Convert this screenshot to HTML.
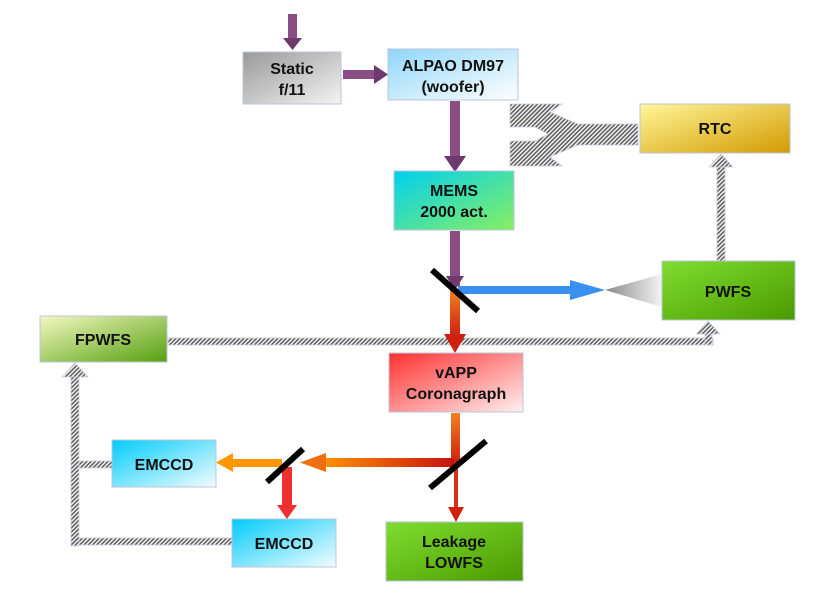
<!DOCTYPE html>
<html><head><style>body{margin:0;background:#fff}svg{display:block}text{font-family:"Liberation Sans",sans-serif;font-weight:bold;font-size:16px;text-anchor:middle;fill:#111}</style></head><body>
<svg width="826" height="596" viewBox="0 0 826 596" xmlns="http://www.w3.org/2000/svg">
<defs>
<pattern id="h" width="3" height="3" patternUnits="userSpaceOnUse" patternTransform="rotate(45)"><rect width="3" height="3" fill="#f0f0f0"/><rect width="1.4" height="3" fill="#555"/></pattern>
<linearGradient id="gs" x1="0" y1="0" x2="1" y2="1"><stop offset="0" stop-color="#999"/><stop offset="1" stop-color="#f4f4f4"/></linearGradient>
<linearGradient id="gb" x1="0" y1="0" x2="1" y2="1"><stop offset="0" stop-color="#8fd6f8"/><stop offset="1" stop-color="#fff"/></linearGradient>
<linearGradient id="gc" x1="0" y1="0" x2="1" y2="1"><stop offset="0" stop-color="#00ccf8"/><stop offset="1" stop-color="#f4fcff"/></linearGradient>
<linearGradient id="gm" x1="0" y1="0" x2="1" y2="1"><stop offset="0" stop-color="#00d0f0"/><stop offset="1" stop-color="#88f060"/></linearGradient>
<linearGradient id="gy" x1="0" y1="0" x2="1" y2="1"><stop offset="0" stop-color="#fff79a"/><stop offset="1" stop-color="#d39a00"/></linearGradient>
<linearGradient id="gg" x1="0" y1="0" x2="1" y2="1"><stop offset="0" stop-color="#80dd30"/><stop offset="1" stop-color="#4b9a00"/></linearGradient>
<linearGradient id="gf" x1="0" y1="0" x2="1" y2="1"><stop offset="0" stop-color="#f4f8c0"/><stop offset="1" stop-color="#55a010"/></linearGradient>
<linearGradient id="gr" x1="0" y1="0" x2="1" y2="1"><stop offset="0" stop-color="#ff3030"/><stop offset="1" stop-color="#fff0f0"/></linearGradient>
<linearGradient id="gcone" x1="0" y1="0" x2="1" y2="0"><stop offset="0" stop-color="#888"/><stop offset="1" stop-color="#f4f4f4"/></linearGradient>
<linearGradient id="go" x1="0" y1="0" x2="0" y2="1"><stop offset="0" stop-color="#f08020"/><stop offset="1" stop-color="#d02010"/></linearGradient>
<linearGradient id="gh" x1="0" y1="0" x2="1" y2="0"><stop offset="0" stop-color="#ff9800"/><stop offset="1" stop-color="#c81010"/></linearGradient>
</defs>
<g stroke="#c8d0e0" stroke-width="0.8">
<polygon fill="url(#h)" points="510,104 562,104 550,112 578,124 638,124 638,145 578,145 550,157 562,166 510,166 510,141 535,141 548,134 535,127 510,127"/>
<rect x="168" y="338" width="545" height="7" fill="url(#h)"/>
<rect x="705" y="332" width="7" height="13" fill="url(#h)"/>
<polygon fill="url(#h)" points="696,334 708,321 720,334"/>
<rect x="717" y="166" width="8" height="95" fill="url(#h)"/>
<polygon fill="url(#h)" points="709,167 721,154 733,167"/>
<rect x="71" y="376" width="8" height="170" fill="url(#h)"/>
<polygon fill="url(#h)" points="62,377 75,363 88,377"/>
<rect x="79" y="461" width="33" height="7" fill="url(#h)"/>
<rect x="79" y="538" width="153" height="7" fill="url(#h)"/>
</g>
<rect x="288" y="14" width="9" height="26" fill="#8a4e84"/><polygon points="283,38 302,38 292.5,50" fill="#6e3a6e"/>
<rect x="343" y="70" width="32" height="9" fill="#8a4e84"/><polygon points="374,65 374,84 388,74.5" fill="#6e3a6e"/>
<rect x="450" y="101" width="10" height="57" fill="#8a4e84"/><polygon points="444,156 466,156 455,172" fill="#6e3a6e"/>
<rect x="450" y="231" width="10" height="55" fill="#8a4e84"/><polygon points="446,276 464,276 455,290" fill="#6e3a6e"/>
<rect x="450" y="290" width="10" height="46" fill="url(#go)"/><polygon points="444,334 466,334 455,353" fill="#d02010"/>
<rect x="458" y="286" width="115" height="8" fill="#3a90f0"/><polygon points="570,280 570,300 605,290" fill="#3a90f0"/>
<polygon points="605,290 662,274 662,307" fill="url(#gcone)"/>
<line x1="432" y1="270" x2="478" y2="311" stroke="#000" stroke-width="6"/>
<rect x="451" y="413" width="9" height="50" fill="url(#go)"/>
<rect x="454" y="463" width="4" height="46" fill="#d83018"/><polygon points="448,507 464,507 456,522" fill="#d02010"/>
<rect x="318" y="458" width="136" height="9" fill="url(#gh)"/>
<polygon points="326,453 326,472 300,462.5" fill="#f07010"/>
<rect x="232" y="459" width="50" height="8" fill="#ff9800"/><polygon points="233,453 233,472 216,462.5" fill="#ff9800"/>
<rect x="282" y="467" width="10" height="40" fill="#f03030"/><polygon points="277,505 297,505 287,519" fill="#f03030"/>
<line x1="430" y1="488" x2="486" y2="441" stroke="#000" stroke-width="6"/>
<line x1="267" y1="482" x2="303" y2="449" stroke="#000" stroke-width="6"/>
<g stroke="#b8c4dc" stroke-width="1">
<rect x="243" y="52" width="98" height="52" fill="url(#gs)"/>
<rect x="388" y="49" width="130" height="51" fill="url(#gb)"/>
<rect x="394" y="171" width="120" height="59" fill="url(#gm)"/>
<rect x="640" y="104" width="150" height="49" fill="url(#gy)"/>
<rect x="662" y="261" width="133" height="59" fill="url(#gg)"/>
<rect x="40" y="316" width="127" height="46" fill="url(#gf)"/>
<rect x="389" y="353" width="134" height="59" fill="url(#gr)"/>
<rect x="112" y="440" width="104" height="47" fill="url(#gc)"/>
<rect x="232" y="519" width="104" height="48" fill="url(#gc)"/>
<rect x="386" y="522" width="137" height="59" fill="url(#gg)"/>
</g>
<text x="292" y="74">Static</text><text x="292" y="95">f/11</text>
<text x="453" y="71">ALPAO DM97</text><text x="453" y="92">(woofer)</text>
<text x="454" y="196">MEMS</text><text x="454" y="217">2000 act.</text>
<text x="715" y="134">RTC</text>
<text x="728" y="297">PWFS</text>
<text x="103" y="345">FPWFS</text>
<text x="456" y="378">vAPP</text><text x="456" y="399">Coronagraph</text>
<text x="164" y="470">EMCCD</text>
<text x="284" y="549">EMCCD</text>
<text x="454" y="547">Leakage</text><text x="454" y="568">LOWFS</text>
</svg>
</body></html>
